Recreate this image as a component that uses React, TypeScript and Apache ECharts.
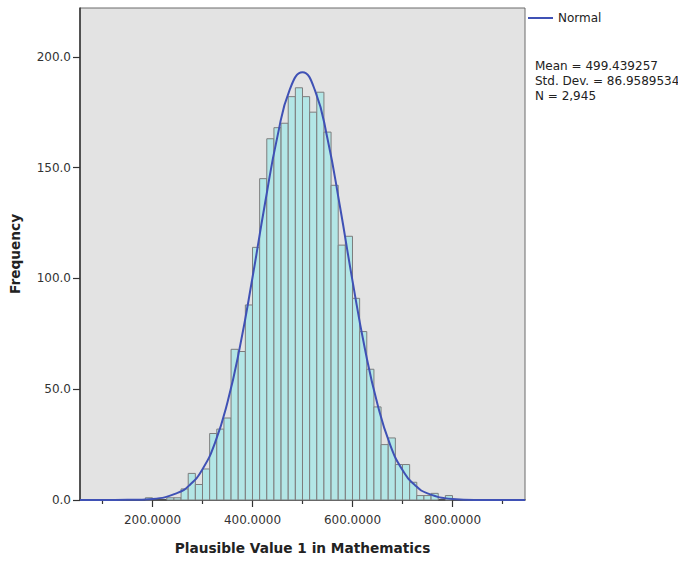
import React, { useEffect, useRef } from "react";
import * as echarts from "echarts";

// Histogram bins (lower edges) and counts
const binWidth = 14.2857;
const binStarts = [
  185.71, 200.0, 214.29, 228.57, 242.86, 257.14, 271.43, 285.71, 300.0, 314.29,
  328.57, 342.86, 357.14, 371.43, 385.71, 400.0, 414.29, 428.57, 442.86, 457.14,
  471.43, 485.71, 500.0, 514.29, 528.57, 542.86, 557.14, 571.43, 585.71, 600.0,
  614.29, 628.57, 642.86, 657.14, 671.43, 685.71, 700.0, 714.29, 728.57, 742.86,
  757.14, 771.43, 785.71,
];
const counts = [
  1, 0, 0, 1, 1, 5, 12, 7, 14, 30,
  32, 37, 68, 67, 88, 114, 145, 163, 168, 170,
  182, 186, 182, 175, 184, 166, 142, 115, 119, 91,
  76, 59, 42, 25, 28, 16, 16, 8, 2, 2,
  3, 0, 2,
];

// Normal curve
const curveX = [55, 100, 150, 200, 250, 275, 300, 325, 350, 375, 400, 425, 450, 475, 500, 525, 550, 575, 600, 625, 650, 675, 700, 725, 750, 800, 850, 900, 945];
const curveY = [0, 0, 0.06, 0.5, 3.2, 6.9, 13.9, 25.8, 44.1, 69.3, 100.4, 133.8, 164.2, 185.5, 193.0, 184.8, 163.0, 132.3, 98.9, 68.0, 43.2, 25.1, 13.5, 6.7, 3.0, 0.5, 0.04, 0, 0];

const yTicks = [0, 50, 100, 150, 200];
const xMajorTicks = [200, 400, 600, 800];
const xMinorTicks = [100, 300, 500, 700, 900];
const statsLines = ["Mean = 499.439257", "Std. Dev. = 86.9589534", "N = 2,945"];

const FONT = "DejaVu Sans";
const CURVE_COLOR = "#3f51b5";

export default function App() {
  const ref = useRef<HTMLDivElement>(null);
  useEffect(() => {
    if (!ref.current) return;
    const chart = echarts.init(ref.current, null, { renderer: "svg" });
    const barData = binStarts.map((s, i) => [s, s + binWidth, counts[i]]);
    const lineData = curveX.map((x, i) => [x, curveY[i]]);
    chart.setOption({
      animation: false,
      backgroundColor: "#ffffff",
      grid: {
        left: 80,
        right: 153,
        top: 8,
        bottom: 62,
        show: true,
        backgroundColor: "#e3e3e3",
        borderColor: "#6a6a6a",
        borderWidth: 1,
      },
      legend: {
        data: [{ name: "Normal", icon: "rect", itemStyle: { color: CURVE_COLOR } }],
        left: 528,
        top: 12,
        padding: 0,
        itemWidth: 25,
        itemHeight: 2,
        textStyle: { fontFamily: FONT, fontSize: 12, color: "#222" },
      },
      graphic: [
        {
          type: "text",
          left: 535,
          top: 58,
          style: {
            text: statsLines.join("\n"),
            font: `12px "${FONT}"`,
            fill: "#222",
            lineHeight: 15,
          },
        },
      ],
      xAxis: [
        {
          type: "value",
          min: 55,
          max: 945,
          position: "bottom",
          name: "Plausible Value 1 in Mathematics",
          nameLocation: "middle",
          nameGap: 41,
          nameTextStyle: { fontFamily: FONT, fontSize: 13.7, fontWeight: "bold", color: "#222" },
          axisLine: { show: true, onZero: false, lineStyle: { color: "#333", width: 1.5 } },
          axisTick: { show: true, customValues: xMajorTicks, length: 7, lineStyle: { color: "#333", width: 1.2 } },
          axisLabel: {
            customValues: xMajorTicks,
            formatter: (v: number) => v.toFixed(4),
            margin: 14,
            fontFamily: FONT,
            fontSize: 12,
            color: "#333",
          },
          splitLine: { show: false },
        },
        {
          type: "value",
          min: 55,
          max: 945,
          position: "bottom",
          axisLine: { show: false },
          axisTick: { show: true, customValues: xMinorTicks, length: 4, lineStyle: { color: "#333", width: 1.2 } },
          axisLabel: { show: false },
          splitLine: { show: false },
        },
      ],
      yAxis: {
        type: "value",
        min: 0,
        max: 222,
        name: "Frequency",
        nameLocation: "middle",
        nameGap: 58,
        nameTextStyle: { fontFamily: FONT, fontSize: 13.7, fontWeight: "bold", color: "#222" },
        axisLine: { show: true, lineStyle: { color: "#333", width: 1.5 } },
        axisTick: { show: true, customValues: yTicks, length: 7, lineStyle: { color: "#333", width: 1.2 } },
        axisLabel: {
          customValues: yTicks,
          formatter: (v: number) => v.toFixed(1),
          margin: 9,
          fontFamily: FONT,
          fontSize: 12,
          color: "#333",
        },
        splitLine: { show: false },
      },
      series: [
        {
          type: "custom",
          name: "Histogram",
          xAxisIndex: 0,
          data: barData,
          encode: { x: [0, 1], y: 2 },
          renderItem: (params: any, api: any) => {
            const c = api.value(2);
            if (!c) return null;
            const p0 = api.coord([api.value(0), c]);
            const p1 = api.coord([api.value(1), 0]);
            return {
              type: "rect",
              shape: { x: p0[0], y: p0[1], width: p1[0] - p0[0], height: p1[1] - p0[1] },
              style: { fill: "#b3e6e6", stroke: "#7d7d7d", lineWidth: 1 },
            };
          },
          silent: true,
        },
        {
          type: "line",
          name: "Normal",
          xAxisIndex: 0,
          data: lineData,
          smooth: true,
          symbol: "none",
          showSymbol: false,
          clip: true,
          lineStyle: { color: CURVE_COLOR, width: 2 },
          itemStyle: { color: CURVE_COLOR },
          z: 5,
        },
      ],
    });
    return () => chart.dispose();
  }, []);
  return (
    <div
      ref={ref}
      style={{ position: "fixed", left: 0, top: 0, width: 678, height: 562 }}
    />
  );
}
